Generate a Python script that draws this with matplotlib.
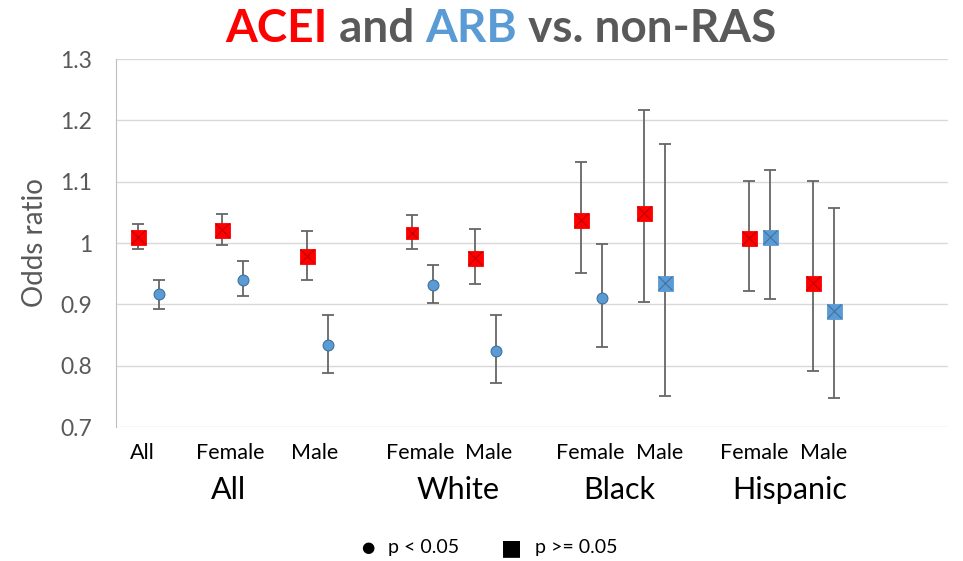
import numpy as np
import matplotlib
matplotlib.use("Agg")
import matplotlib.pyplot as plt

plt.rcParams['font.family'] = ['Lato', 'DejaVu Sans']

# data
subgroups = ["All", "Female", "Male", "Female", "Male", "Female", "Male", "Female", "Male"]
groups = ["All", "White", "Black", "Hispanic"]

acei_or = [1.009, 1.022, 0.978, 1.017, 0.976, 1.038, 1.049, 1.008, 0.934]
acei_lo = [0.990, 0.997, 0.939, 0.990, 0.933, 0.951, 0.903, 0.922, 0.792]
acei_hi = [1.031, 1.048, 1.019, 1.046, 1.023, 1.132, 1.217, 1.101, 1.101]
acei_sig = [False] * 9

arb_or = [0.917, 0.940, 0.833, 0.932, 0.824, 0.911, 0.935, 1.009, 0.889]
arb_lo = [0.892, 0.913, 0.788, 0.902, 0.771, 0.831, 0.751, 0.909, 0.748]
arb_hi = [0.940, 0.970, 0.883, 0.964, 0.882, 0.998, 1.161, 1.119, 1.057]
arb_sig = [True, True, True, True, True, True, False, False, False]

# layout (x in axis units, 64 px each)
x_acei = np.array([0.34, 1.66, 2.98, 4.63, 5.61, 7.27, 8.25, 9.89, 10.89])
x_arb = x_acei + 0.33
x_sub = [0.41, 1.78, 3.11, 4.75, 5.83, 7.41, 8.50, 9.98, 11.06]
x_grp = [1.75, 5.34, 7.86, 10.52]
acei_ms = [10.8, 10.8, 10.8, 8.0, 10.8, 10.8, 10.8, 10.8, 10.8]

RED, RED_DK = "#FF0000", "#C00000"
BLUE, BLUE_DK = "#5B9BD5", "#41719C"
GRAY = "#595959"

fig = plt.figure(figsize=(9.63, 5.61), dpi=100)
ax = fig.add_axes([116 / 963, 1 - 427 / 561, 832 / 963, 368 / 561])
ax.set_xlim(0, 13)
ax.set_ylim(0.7, 1.3)

ax.set_yticks(np.arange(0.7, 1.31, 0.1))
ax.set_yticklabels(["0.7", "0.8", "0.9", "1", "1.1", "1.2", "1.3"])
ax.tick_params(axis='y', length=0, labelsize=16.5, labelcolor=GRAY, pad=17)
ax.set_xticks([])
ax.grid(axis='y', color="#D9D9D9", lw=1.0)
ax.set_axisbelow(True)
for s in ["top", "right", "bottom"]:
    ax.spines[s].set_visible(False)
ax.spines["left"].set_color("#BFBFBF")
ax.set_ylabel("Odds ratio", fontsize=20, color=GRAY, labelpad=9)


def draw(xs, ors, lo, hi, sig, face, dark, sizes):
    ors = np.array(ors)
    err = np.vstack([ors - np.array(lo), np.array(hi) - ors])
    ax.errorbar(xs, ors, yerr=err, fmt='none', ecolor="#666666", elinewidth=1.3,
                capsize=4.5, capthick=1.3, zorder=2)
    for x, y, s, ms in zip(xs, ors, sig, sizes):
        if s:
            ax.plot(x, y, 'o', ms=7.8, mfc=face, mec=dark, mew=0.8, zorder=3)
        else:
            ax.plot(x, y, 's', ms=ms, mfc=face, mec=face, mew=0.6, zorder=3)
            ax.plot(x, y, 'x', ms=ms * 0.95, mec=dark, mew=0.8, zorder=4)


draw(x_acei, acei_or, acei_lo, acei_hi, acei_sig, RED, RED_DK, acei_ms)
draw(x_arb, arb_or, arb_lo, arb_hi, arb_sig, BLUE, BLUE_DK, [10.8] * 9)

tr = ax.get_xaxis_transform()
for x, t in zip(x_sub, subgroups):
    ax.text(x, -0.071, t, transform=tr, ha='center', va='center', fontsize=15.5, color="black")
for x, t in zip(x_grp, groups):
    ax.text(x, -0.171, t, transform=tr, ha='center', va='center', fontsize=22, color="black")

# title in colored pieces
pieces = [("ACEI", RED), (" and ", GRAY), ("ARB", BLUE), (" vs. non-RAS", GRAY)]
texts = [fig.text(0, 1 - 29 / 561, p, color=c, fontsize=33, fontweight='bold', va='center')
         for p, c in pieces]
fig.canvas.draw()
r = fig.canvas.get_renderer()
widths = [t.get_window_extent(r).width for t in texts]
x0 = 501 - sum(widths) / 2
for t, w in zip(texts, widths):
    t.set_x(x0 / 963)
    x0 += w

# legend
ly = 1 - 548 / 561
fig.text(368 / 963, ly, "\u25CF", fontsize=11, ha='center', va='center', color="black",
         family=['DejaVu Sans'])
fig.text(388 / 963, ly, "p < 0.05", fontsize=14, ha='left', va='center')
fig.text(511 / 963, ly, "\u25A0", fontsize=16, ha='center', va='center', color="black",
         family=['DejaVu Sans'])
fig.text(535 / 963, ly, "p >= 0.05", fontsize=14, ha='left', va='center')

fig.savefig("out.png", dpi=100)
